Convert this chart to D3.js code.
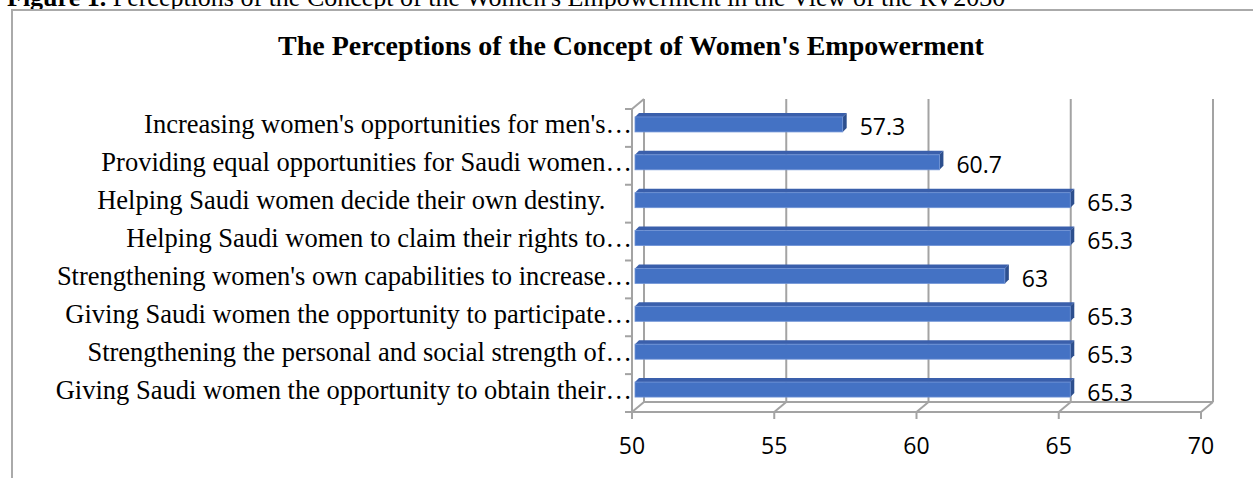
<!DOCTYPE html>
<html>
<head>
<meta charset="utf-8">
<script src="https://cdn.jsdelivr.net/npm/d3@7.9.0/dist/d3.min.js"></script>
<style>
  body { margin: 0; background: #fff; }
  svg { display: block; }
  .cat { font-family: "Liberation Serif", "Times New Roman", serif; font-size: 26.5px; white-space: pre; }
  .num { font-family: "Open Sans", sans-serif; font-size: 23px; }
</style>
</head>
<body>
<div id="chart"></div>
<script>
const categories = [
  "Increasing women's opportunities for men's\u2026",
  "Providing equal opportunities for Saudi women\u2026",
  "Helping Saudi women decide their own destiny.\u00a0\u00a0\u00a0\u00a0",
  "Helping Saudi women to claim their rights to\u2026",
  "Strengthening women's own capabilities to increase\u2026",
  "Giving Saudi women the opportunity to participate\u2026",
  "Strengthening the personal and social strength of\u2026",
  "Giving Saudi women the opportunity to obtain their\u2026"
];
const values = [57.3, 60.7, 65.3, 65.3, 63, 65.3, 65.3, 65.3];
const valueLabels = ["57.3", "60.7", "65.3", "65.3", "63", "65.3", "65.3", "65.3"];
const xTicks = [50, 55, 60, 65, 70];

const width = 1253, height = 478;
const depth = { dx: 12, dy: -10 };
const grid = '#a3a3a3';

const svg = d3.select('#chart').append('svg')
  .attr('width', width).attr('height', height);

// figure caption, cut at the top of the crop
const cap = svg.append('text')
  .attr('x', 7).attr('y', 6)
  .style('font-family', '"Liberation Serif", serif')
  .style('font-size', '26px');
cap.append('tspan').style('font-weight', 'bold').text('Figure 1. ');
cap.append('tspan').text("Perceptions of the Concept of the Women's Empowerment in the View of the RV2030");

// chart frame
svg.append('rect')
  .attr('x', 12).attr('y', 10)
  .attr('width', 1300).attr('height', 600)
  .attr('fill', 'none').attr('stroke', '#aaa').attr('stroke-width', 2);

svg.append('text')
  .attr('x', 631).attr('y', 55)
  .attr('text-anchor', 'middle')
  .style('font-family', '"Liberation Serif", serif')
  .style('font-weight', 'bold')
  .style('font-size', '28px')
  .text("The Perceptions of the Concept of Women's Empowerment");

const xScale = d3.scaleLinear().domain([50, 70]).range([632, 1201]);
const yScale = d3.scaleBand().domain(categories).range([109, 412]);

const x0 = xScale.range()[0], x1 = xScale.range()[1];
const yTop = yScale.range()[0], yBot = yScale.range()[1];

const walls = svg.append('g')
  .attr('fill', 'none').attr('stroke', grid).attr('stroke-width', 2);

// back wall gridlines
walls.selectAll('line.grid')
  .data(xTicks)
  .join('line')
  .attr('class', 'grid')
  .attr('x1', (d) => xScale(d) + depth.dx).attr('x2', (d) => xScale(d) + depth.dx)
  .attr('y1', yTop + depth.dy).attr('y2', yBot + depth.dy);

// floor diagonals
walls.selectAll('line.floor')
  .data(xTicks)
  .join('line')
  .attr('class', 'floor')
  .attr('x1', (d) => xScale(d)).attr('x2', (d) => xScale(d) + depth.dx)
  .attr('y1', yBot).attr('y2', yBot + depth.dy);

// floor edges
walls.append('line').attr('x1', x0).attr('x2', x1).attr('y1', yBot).attr('y2', yBot);
walls.append('line').attr('x1', x0 + depth.dx).attr('x2', x1 + depth.dx)
  .attr('y1', yBot + depth.dy).attr('y2', yBot + depth.dy);

// left wall front edge and top corner
walls.append('line').attr('x1', x0).attr('x2', x0).attr('y1', yTop).attr('y2', yBot + 7);
walls.append('line').attr('x1', x0).attr('x2', x0 + depth.dx)
  .attr('y1', yTop).attr('y2', yTop + depth.dy);

// x ticks down
walls.selectAll('line.xt')
  .data(xTicks)
  .join('line')
  .attr('class', 'xt')
  .attr('x1', (d) => xScale(d)).attr('x2', (d) => xScale(d))
  .attr('y1', yBot).attr('y2', yBot + 7);

// category ticks
const bounds = categories.map((c) => yScale(c)).concat([yBot]);
walls.selectAll('line.yt')
  .data(bounds)
  .join('line')
  .attr('class', 'yt')
  .attr('x1', x0 - 7).attr('x2', x0)
  .attr('y1', (d) => d).attr('y2', (d) => d);

// bars
const barH = 15, off1 = { dx: 3, dy: -3.5 }, off2 = { dx: 7, dy: -7.5 };
const bars = svg.append('g');
categories.forEach((c, i) => {
  const cy = yScale(c) + yScale.bandwidth() / 2 + off1.dy;
  const fx0 = x0 + off1.dx, fx1 = xScale(values[i]) + off1.dx;
  const ft = cy - barH / 2, fb = cy + barH / 2;
  const sx = off2.dx - off1.dx, sy = off2.dy - off1.dy;
  bars.append('polygon')
    .attr('points', [[fx0, ft], [fx0 + sx, ft + sy], [fx1 + sx, ft + sy], [fx1, ft]].join(' '))
    .attr('fill', '#3a5fab');
  bars.append('polygon')
    .attr('points', [[fx1, ft], [fx1 + sx, ft + sy], [fx1 + sx, fb + sy], [fx1, fb]].join(' '))
    .attr('fill', '#2d4f8e');
  bars.append('rect')
    .attr('x', fx0).attr('y', ft)
    .attr('width', fx1 - fx0).attr('height', barH)
    .attr('fill', '#4472c4')
    .attr('stroke', '#6f93d6').attr('stroke-width', 0.8);
});

// value labels
svg.append('g').selectAll('text')
  .data(values)
  .join('text')
  .attr('class', 'num')
  .attr('x', (d) => xScale(d) + 20)
  .attr('y', (d, i) => yScale(categories[i]) + yScale.bandwidth() / 2 - 1.5)
  .attr('dominant-baseline', 'central')
  .text((d, i) => valueLabels[i]);

// category labels
svg.append('g').selectAll('text')
  .data(categories)
  .join('text')
  .attr('class', 'cat')
  .attr('x', x0)
  .attr('y', (d) => yScale(d) + yScale.bandwidth() / 2 - 3.5)
  .attr('text-anchor', 'end')
  .attr('dominant-baseline', 'central')
  .text((d) => d);

// x tick labels
svg.append('g').selectAll('text')
  .data(xTicks)
  .join('text')
  .attr('class', 'num')
  .attr('x', (d) => xScale(d))
  .attr('y', 445)
  .attr('text-anchor', 'middle')
  .attr('dominant-baseline', 'central')
  .text((d) => d);
</script>
</body>
</html>
